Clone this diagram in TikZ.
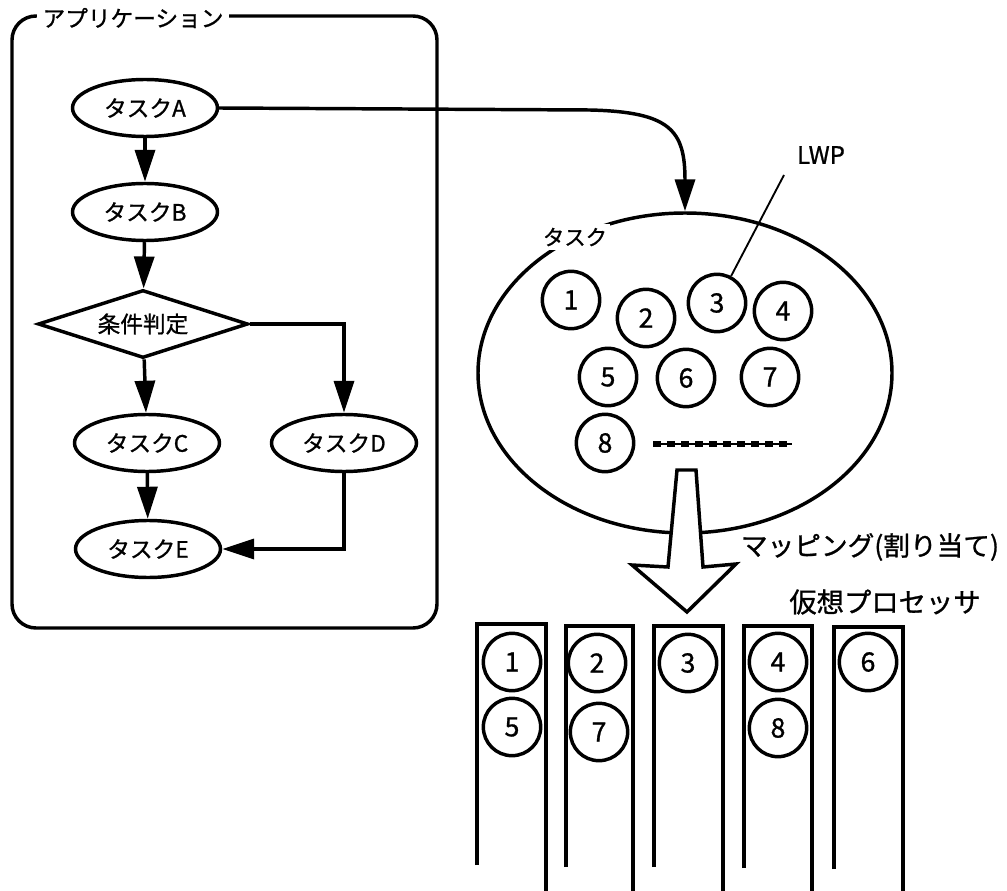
\documentclass[tikz,border=0pt]{standalone}
\usepackage{fontspec}
\setmainfont{Noto Sans CJK JP}[FakeBold=1]
\usetikzlibrary{shapes.geometric,arrows.meta}
\begin{document}
\begin{tikzpicture}[x=0.75pt,y=-0.75pt,
  every path/.style={line width=2.6pt},
  task/.style={draw,ellipse,line width=2.6pt,minimum width=108.75pt,minimum height=42.75pt,inner sep=0pt,font=\fontsize{17}{20}\selectfont},
  lwpc/.style={draw,circle,line width=2.6pt,minimum size=43pt,inner sep=0pt,font=\fontsize{20}{23}\selectfont},
  arr/.style={line width=2.6pt,-{Triangle[length=24pt,width=15pt]}},
  lbl/.style={inner sep=0pt,font=\fontsize{17}{20}\selectfont},
  proc/.style={line width=2.6pt}]
\useasboundingbox (0,0) rectangle (1007,891);

% application box
\draw[line width=2.6pt,rounded corners=18pt] (12,16) rectangle (437,628);
\node[fill=white,inner xsep=4pt,inner ysep=2pt,font=\fontsize{17}{20}\selectfont] (apptitle) at (133,18) {アプリケーション};

% flowchart
\node[task] (A) at (145,108) {タスクA};
\node[task] (B) at (145,212) {タスクB};
\node[draw,diamond,line width=2.6pt,aspect=3,inner sep=1pt,minimum width=157.5pt,minimum height=51pt,font=\fontsize{17}{20}\selectfont] (dia) at (143,324) {条件判定};
\node[task] (C) at (147,443) {タスクC};
\node[task] (D) at (344,443) {タスクD};
\node[task] (E) at (148,549) {タスクE};

\draw[arr] (A) -- (B);
\draw[arr] (B) -- (dia);
\draw[arr] (dia) -- (C);
\draw[arr] (C) -- (E);
\draw[arr] (dia.east) -| (D.north);
\draw[arr] (D.south) |- (E.east);

% task ellipse
\node[draw,ellipse,line width=2.6pt,minimum width=310.5pt,minimum height=240pt,inner sep=0pt] (tsk) at (685,373) {};
\node[lbl,fill=white,inner xsep=2pt,inner ysep=3pt,font=\fontsize{16}{19}\selectfont] (tsklbl) at (575,237) {タスク};

\draw[arr] (A.east) -- (590,110) .. controls (670,112) and (685,130) .. (685,180) -- (tsk.north);

\node[lwpc] (c1) at (571,300) {1};
\node[lwpc] (c2) at (646,318) {2};
\node[lwpc] (c3) at (717,303) {3};
\node[lwpc] (c4) at (783,311) {4};
\node[lwpc] (c5) at (608,377) {5};
\node[lwpc] (c6) at (686,378) {6};
\node[lwpc] (c7) at (770,377) {7};
\node[lwpc] (c8) at (605,443) {8};

\draw[line width=1pt] (653,444) -- (792,444);
\draw[line width=4pt,dash pattern=on 6pt off 4.5pt] (653,444) -- (792,444);

% LWP label
\node[lbl,font=\fontsize{18}{21}\selectfont] (lwp) at (821,155) {LWP};
\coordinate (lwpt) at (784,175);
\draw[line width=1.4pt] (lwpt) -- (c3);

% mapping arrow
\draw[line width=2.6pt,fill=white,line join=miter] (677,470) -- (696,470) -- (703,567) -- (736,564) -- (687,612) -- (632,565) -- (668,567) -- cycle;
\node[lbl,font=\fontsize{20}{24}\selectfont] (maplbl) at (870,547) {マッピング(割り当て)};
\node[lbl,font=\fontsize{20.5}{24}\selectfont] (vplbl) at (885,602) {仮想プロセッサ};

% virtual processors
\draw[proc] (477,865) -- (477,624) -- (546,624) -- (546,895);
\draw[proc] (566,867) -- (566,626) -- (633,626) -- (633,895);
\draw[proc] (654,867) -- (654,626) -- (723,626) -- (723,895);
\draw[proc] (744,868) -- (744,626) -- (812,626) -- (812,895);
\draw[proc] (834,869) -- (834,627) -- (903,627) -- (903,895);

\node[lwpc] (q1) at (512,662) {1};
\node[lwpc] (q5) at (512,727) {5};
\node[lwpc] (q2) at (597,663) {2};
\node[lwpc] (q7) at (599,732) {7};
\node[lwpc] (q3) at (688,663) {3};
\node[lwpc] (q4) at (778,662) {4};
\node[lwpc] (q8) at (778,728) {8};
\node[lwpc] (q6) at (868,662) {6};
\end{tikzpicture}
\end{document}
